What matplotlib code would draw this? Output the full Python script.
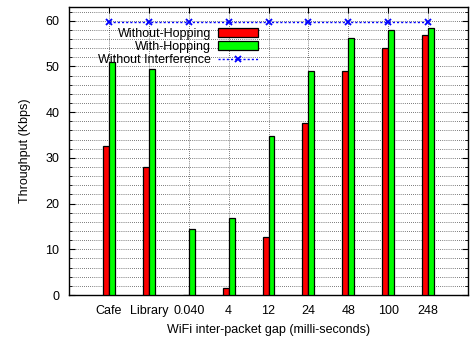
import matplotlib
matplotlib.use("Agg")
import matplotlib.pyplot as plt
import numpy as np
from matplotlib.ticker import MultipleLocator

plt.rcParams["font.family"] = ["Liberation Sans", "DejaVu Sans"]
plt.rcParams["font.size"] = 9

categories = ["Cafe", "Library", "0.040", "4", "12", "24", "48", "100", "248"]
without_hopping = [32.5, 28.0, 0.0, 1.45, 12.6, 37.7, 48.9, 54.0, 56.9]
with_hopping = [51.0, 49.4, 14.45, 16.9, 34.8, 49.1, 56.2, 58.0, 58.5]
without_interference = [59.7] * len(categories)

x = np.arange(len(categories))
w = 0.15

fig = plt.figure(figsize=(4.75, 3.39), dpi=100)
ax = fig.add_axes([69 / 475, 1 - 295 / 339, 399 / 475, 288 / 339])

b1 = ax.bar(x - w / 2, without_hopping, w, color="#ff0000", edgecolor="black", lw=0.9,
            label="Without-Hopping", zorder=3)
b2 = ax.bar(x + w / 2, with_hopping, w, color="#00ff00", edgecolor="black", lw=0.9,
            label="With-Hopping", zorder=3)
l1, = ax.plot(x, without_interference, color="#0000ff", ls=(0, (1.5, 1.5)), lw=1,
              marker="x", ms=5, mew=1.3, label="Without Interference", zorder=4)

ax.set_xlim(-1, 9)
ax.set_ylim(0, 63)
ax.set_xticks(x)
ax.set_xticklabels(categories)
ax.yaxis.set_major_locator(MultipleLocator(10))
ax.yaxis.set_minor_locator(MultipleLocator(2))
ax.tick_params(which="both", direction="in", top=True, right=True)
ax.tick_params(which="major", length=4, pad=7)
ax.tick_params(which="minor", length=2)
ax.grid(axis="y", which="both", color="black", ls=(0, (1, 2)), lw=0.5, zorder=0)
ax.grid(axis="x", which="major", color="black", ls=(0, (1, 2)), lw=0.5, zorder=0)
for s in ax.spines.values():
    s.set_linewidth(1)

ax.set_xlabel("WiFi inter-packet gap (milli-seconds)", labelpad=5)
ax.set_ylabel("Throughput (Kbps)", labelpad=10)

leg = ax.legend([b1, b2, l1], ["Without-Hopping", "With-Hopping", "Without Interference"],
                loc="upper right", bbox_to_anchor=(0.487, 0.945), markerfirst=False,
                frameon=False, handlelength=3.2, handletextpad=0.6,
                labelspacing=0.1, borderaxespad=0)

fig.savefig("out.png", dpi=100)
